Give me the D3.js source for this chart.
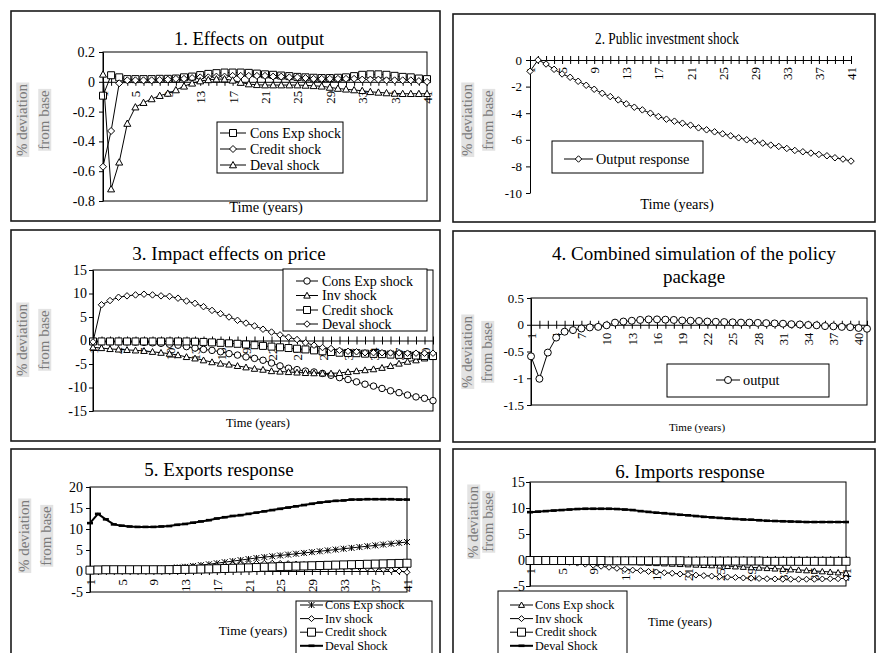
<!DOCTYPE html>
<html>
<head>
<meta charset="utf-8">
<script src="https://cdn.jsdelivr.net/npm/d3@7"></script>
<style>
  body { margin: 0; background: #fff; }
  svg { display: block; }
  text { font-family: "Liberation Serif", "Times New Roman", serif; fill: #000; white-space: pre; }
</style>
</head>
<body>
<svg id="chart" width="876" height="653"></svg>
<script>
// ---------- data ----------
const years = d3.range(1, 42);            // simulation years 1..41
const labelsEvery4 = d3.range(1, 42, 4);   // 1, 5, 9, ... 41
const labelsEvery3 = d3.range(1, 42, 3);   // 1, 4, 7, ... 40

// 1. Effects on output
const outConsExp = [-0.093,0.044,0.03,0.018,0.018,0.018,0.018,0.02,0.02,0.022,0.03,0.035,0.045,0.053,0.058,0.062,0.062,0.062,0.06,0.055,0.05,0.047,0.042,0.038,0.033,0.03,0.027,0.025,0.025,0.027,0.03,0.038,0.047,0.05,0.05,0.047,0.04,0.033,0.03,0.022,0.018];
const outCredit = [-0.57,-0.33,-0.01,0.01,0.01,0.01,0.01,0.012,0.015,0.02,0.02,0.025,0.03,0.03,0.035,0.035,0.04,0.04,0.04,0.04,0.04,0.035,0.035,0.03,0.03,0.025,0.02,0.02,0.02,0.02,0.02,0.02,0.015,0.015,0.015,0.01,0.01,0.01,0.01,0.005,0.0];
const outDeval = [0.05,-0.72,-0.54,-0.28,-0.17,-0.14,-0.115,-0.093,-0.078,-0.055,-0.03,-0.01,0.005,0.013,0.018,0.018,0.01,-0.005,-0.015,-0.02,-0.022,-0.022,-0.022,-0.022,-0.022,-0.024,-0.027,-0.03,-0.038,-0.045,-0.05,-0.055,-0.06,-0.067,-0.071,-0.075,-0.078,-0.08,-0.08,-0.08,-0.08];
const outTicks = [0.2, 0, -0.2, -0.4, -0.6, -0.8];

// 2. Public investment shock
const pubInvOutput = [-0.85,0.0,-0.3,-0.7,-1.05,-1.3,-1.6,-1.9,-2.2,-2.5,-2.75,-3.0,-3.3,-3.55,-3.75,-4.0,-4.25,-4.45,-4.6,-4.75,-4.9,-5.1,-5.25,-5.4,-5.55,-5.7,-5.85,-6.0,-6.1,-6.25,-6.4,-6.5,-6.65,-6.8,-6.9,-7.0,-7.1,-7.2,-7.35,-7.45,-7.6];
const pubInvTicks = [0, -2, -4, -6, -8, -10];

// 3. Impact effects on price
const priceConsExp = [-0.3,-0.3,-0.3,-0.3,-0.3,-0.35,-0.4,-0.5,-0.6,-0.8,-1.0,-1.3,-1.6,-1.9,-2.1,-2.4,-2.8,-3.1,-3.5,-3.8,-4.2,-4.8,-5.4,-5.9,-6.2,-6.5,-6.7,-7.0,-7.4,-7.9,-8.3,-8.8,-9.3,-9.7,-10.2,-10.7,-11.1,-11.6,-12.0,-12.3,-12.8];
const priceInv = [-1.45,-1.6,-1.8,-1.9,-2.0,-2.1,-2.2,-2.4,-2.6,-2.8,-3.1,-3.5,-3.8,-4.2,-4.6,-4.9,-5.1,-5.4,-5.7,-6.0,-6.2,-6.5,-6.6,-6.7,-6.8,-6.9,-6.95,-7.0,-7.0,-6.9,-6.7,-6.5,-6.3,-6.1,-5.8,-5.4,-4.9,-4.5,-4.2,-3.8,-3.5];
const priceCredit = [-0.2,-0.2,-0.2,-0.2,-0.2,-0.2,-0.2,-0.2,-0.2,-0.2,-0.2,-0.2,-0.25,-0.3,-0.4,-0.5,-0.6,-0.7,-0.85,-1.0,-1.15,-1.3,-1.45,-1.6,-1.75,-1.9,-2.1,-2.3,-2.45,-2.6,-2.65,-2.7,-2.8,-2.85,-2.9,-3.0,-3.05,-3.1,-3.2,-3.3,-3.3];
const priceDeval = [-0.3,7.6,8.5,9.2,9.5,9.7,9.85,9.7,9.5,9.4,9.0,8.4,7.9,7.2,6.4,5.7,5.0,4.3,3.7,3.1,2.4,1.8,1.2,0.7,0.2,-0.5,-1.0,-1.5,-1.7,-2.1,-2.3,-2.4,-2.6,-2.6,-2.6,-2.65,-2.65,-2.7,-2.7,-2.7,-2.7];
const priceTicks = [15, 10, 5, 0, -5, -10, -15];

// 4. Combined simulation of the policy package
const combinedOutput = [-0.59,-1.01,-0.52,-0.24,-0.13,-0.10,-0.07,-0.05,-0.04,-0.01,0.04,0.06,0.075,0.09,0.1,0.1,0.095,0.09,0.08,0.075,0.07,0.06,0.055,0.05,0.045,0.04,0.04,0.035,0.03,0.025,0.02,0.01,0.005,-0.005,-0.01,-0.025,-0.03,-0.04,-0.045,-0.06,-0.075];
const combinedTicks = [0.5, 0, -0.5, -1, -1.5];

// 5. Exports response
const expConsExp = [0,0.1,0.2,0.25,0.3,0.35,0.4,0.45,0.5,0.6,0.7,0.85,1.0,1.2,1.4,1.6,1.85,2.1,2.35,2.6,2.85,3.1,3.3,3.5,3.7,3.9,4.1,4.3,4.5,4.7,4.9,5.1,5.3,5.5,5.7,5.9,6.1,6.3,6.5,6.7,6.9];
const expInv = [0.2,0.3,0.35,0.4,0.4,0.45,0.45,0.5,0.5,0.55,0.6,0.7,0.8,0.9,1.0,1.1,1.25,1.4,1.5,1.6,1.7,1.8,1.85,1.85,1.8,1.75,1.65,1.55,1.45,1.35,1.25,1.15,1.05,0.95,0.85,0.7,0.55,0.4,0.2,0.0,-0.3];
const expCredit = [0.2,0.25,0.3,0.3,0.3,0.3,0.3,0.3,0.3,0.3,0.32,0.35,0.38,0.42,0.46,0.5,0.55,0.6,0.65,0.7,0.75,0.82,0.9,0.97,1.05,1.1,1.15,1.2,1.25,1.3,1.35,1.4,1.45,1.5,1.55,1.6,1.65,1.7,1.75,1.8,1.85];
const expDeval = [11.4,13.6,12.3,11.1,10.8,10.6,10.5,10.5,10.5,10.6,10.7,11.0,11.2,11.5,11.8,12.1,12.5,12.8,13.1,13.3,13.6,13.9,14.2,14.5,14.8,15.1,15.4,15.7,16.0,16.3,16.5,16.7,16.8,17.0,17.0,17.1,17.1,17.1,17.1,17.0,17.0];
const expTicks = [20, 15, 10, 5, 0, -5];

// 6. Imports response
const impConsExp = [0,0,-0.02,-0.03,-0.05,-0.06,-0.08,-0.1,-0.12,-0.15,-0.2,-0.27,-0.35,-0.42,-0.5,-0.56,-0.62,-0.68,-0.74,-0.8,-0.86,-0.92,-0.98,-1.04,-1.1,-1.18,-1.26,-1.34,-1.42,-1.5,-1.58,-1.66,-1.74,-1.82,-1.9,-2.0,-2.1,-2.2,-2.3,-2.4,-2.5];
const impInv = [0,-0.05,-0.1,-0.2,-0.3,-0.45,-0.6,-0.8,-1.0,-1.2,-1.4,-1.6,-1.8,-1.95,-2.05,-2.2,-2.3,-2.45,-2.55,-2.7,-2.8,-2.9,-3.0,-3.1,-3.2,-3.3,-3.35,-3.45,-3.5,-3.55,-3.6,-3.65,-3.7,-3.7,-3.7,-3.7,-3.7,-3.65,-3.6,-3.6,-3.5];
const impCredit = [-0.1,-0.1,-0.1,-0.1,-0.1,-0.1,-0.1,-0.1,-0.1,-0.1,-0.15,-0.15,-0.15,-0.15,-0.15,-0.15,-0.15,-0.15,-0.15,-0.15,-0.2,-0.2,-0.2,-0.2,-0.2,-0.2,-0.2,-0.2,-0.2,-0.2,-0.25,-0.25,-0.25,-0.25,-0.25,-0.25,-0.25,-0.25,-0.25,-0.25,-0.25];
const impDeval = [9.2,9.3,9.4,9.5,9.6,9.7,9.8,9.85,9.85,9.85,9.85,9.8,9.7,9.6,9.4,9.25,9.1,9.0,8.85,8.7,8.6,8.45,8.3,8.2,8.1,8.0,7.9,7.8,7.75,7.65,7.55,7.5,7.45,7.4,7.35,7.3,7.3,7.3,7.3,7.3,7.3];
const impTicks = [15, 10, 5, 0, -5];

// ---------- drawing helpers ----------
const svg = d3.select("#chart");
const fmt = d => String(+d.toFixed(2));

function symbolPath(type, s) {
  const h = s / 2;
  switch (type) {
    case "square": return `M${-h},${-h}H${h}V${h}H${-h}Z`;
    case "diamond": return `M0,${-h}L${h},0L0,${h}L${-h},0Z`;
    case "triangle": return `M0,${-h}L${h},${h * 0.8}L${-h},${h * 0.8}Z`;
    case "circle": { const p = d3.path(); p.arc(0, 0, h, 0, 2 * Math.PI); p.closePath(); return p.toString(); }
    case "star": return `M${-h},${-h}L${h},${h}M${h},${-h}L${-h},${h}M0,${-h}L0,${h}`;
    case "dash": return `M${-h},0H${h}`;
  }
  return "";
}

function drawMarker(g, type, s, tx, ty) {
  const open = type === "star" || type === "dash";
  g.append("path")
    .attr("transform", `translate(${tx},${ty})`)
    .attr("d", symbolPath(type, s))
    .attr("fill", open ? "none" : "#fff")
    .attr("stroke", "#000")
    .attr("stroke-width", type === "dash" ? 2.6 : 1);
}

function drawPanel(p) {
  const g = svg.append("g");
  const [fx, fy, fw, fh] = p.frame;
  g.append("rect").attr("x", fx).attr("y", fy).attr("width", fw).attr("height", fh)
    .attr("fill", "#fff").attr("stroke", "#1a1a1a").attr("stroke-width", 1.6);

  // title
  p.title.lines.forEach((t, i) => {
    const tt = g.append("text").attr("x", p.title.x).attr("y", p.title.y[i])
      .attr("text-anchor", "middle").style("font-size", p.title.size + "px").text(t);
    if (p.title.length) tt.attr("textLength", p.title.length).attr("lengthAdjust", "spacingAndGlyphs");
  });

  // vertical axis title
  [[p.ylabel.x1, "% deviation"], [p.ylabel.x2, "from base"]].forEach(([cx, t]) => {
    const tg = g.append("g").attr("transform", `translate(${cx},${p.ylabel.y}) rotate(-90)`);
    const tx = tg.append("text").attr("text-anchor", "middle").attr("dy", "0.35em")
      .style("font-size", "15px").style("fill", "#7a7a7a").text(t);
    const bb = tx.node().getBBox();
    tg.insert("rect", "text").attr("x", bb.x - 1).attr("y", bb.y + 2)
      .attr("width", bb.width + 2).attr("height", bb.height - 3).attr("fill", "#e3e3e3");
  });

  const x = d3.scalePoint().domain(years).range([p.plot.l, p.plot.r]);
  const y = d3.scaleLinear().domain(p.yDomain).range([p.plot.b, p.plot.t]);

  if (p.box) {
    g.append("rect").attr("x", p.plot.l).attr("y", p.plot.t)
      .attr("width", p.plot.r - p.plot.l).attr("height", p.plot.b - p.plot.t)
      .attr("fill", "none").attr("stroke", "#000").attr("stroke-width", 1);
  }

  // value axis
  const yg = g.append("g").attr("transform", `translate(${p.plot.l},0)`)
    .call(d3.axisLeft(y).tickValues(p.yTicks).tickSize(4).tickSizeOuter(0)
      .tickPadding(p.yGap - 4).tickFormat(fmt));
  yg.selectAll("text").style("font-size", p.yFont + "px");
  yg.selectAll("line, path").attr("stroke", "#000");

  // category axis drawn through zero, with crossing tick marks
  const xg = g.append("g").attr("transform", `translate(0,${y(0)})`)
    .call(d3.axisBottom(x).tickValues(years).tickSize(4).tickSizeOuter(0)
      .tickFormat(d => p.xLabels.includes(d) ? d : ""));
  xg.selectAll("line, path").attr("stroke", "#000");
  xg.selectAll(".tick line").attr("y1", -4).attr("y2", 4);
  xg.selectAll(".tick text")
    .attr("transform", "rotate(-90)").attr("x", -p.xOff).attr("y", 0).attr("dy", "0.35em")
    .attr("text-anchor", "end").style("font-size", p.xFont + "px");

  // series
  const line = d3.line().x((v, i) => x(years[i])).y(v => y(v));
  p.series.forEach(s => {
    g.append("path").datum(s.values).attr("d", line)
      .attr("fill", "none").attr("stroke", "#000").attr("stroke-width", s.lw || 1);
    if (s.marker) s.values.forEach((v, i) => drawMarker(g, s.marker, s.size, x(years[i]), y(v)));
  });

  // axis title
  g.append("text").attr("x", p.xlabel.x).attr("y", p.xlabel.y).attr("text-anchor", "middle")
    .style("font-size", p.xlabel.size + "px").text("Time (years)");

  // legend
  const L = p.legend;
  g.append("rect").attr("x", L.box[0]).attr("y", L.box[1]).attr("width", L.box[2]).attr("height", L.box[3])
    .attr("fill", "#fff").attr("stroke", "#000").attr("stroke-width", 1);
  p.series.forEach((s, i) => {
    const ly = L.rows[i];
    g.append("line").attr("x1", L.line[0]).attr("x2", L.line[1]).attr("y1", ly).attr("y2", ly)
      .attr("stroke", "#000").attr("stroke-width", s.lw || 1);
    if (s.marker) drawMarker(g, s.marker, s.size, (L.line[0] + L.line[1]) / 2, ly);
    g.append("text").attr("x", L.textX).attr("y", ly).attr("dy", "0.33em")
      .style("font-size", L.font + "px").text(s.name);
  });
}

// ---------- panels ----------
drawPanel({
  frame: [11, 11, 429, 210],
  title: { lines: ["1. Effects on  output"], x: 249, y: [45], size: 18.5 },
  ylabel: { x1: 22, x2: 44, y: 120 },
  plot: { l: 103, r: 427, t: 52, b: 201 }, yDomain: [-0.8, 0.2], yTicks: outTicks,
  yGap: 8, yFont: 14, box: true, xLabels: labelsEvery4, xOff: 9, xFont: 13,
  series: [
    { name: "Cons Exp shock", values: outConsExp, marker: "square", size: 7 },
    { name: "Credit shock", values: outCredit, marker: "diamond", size: 7 },
    { name: "Deval shock", values: outDeval, marker: "triangle", size: 7 }
  ],
  xlabel: { x: 266, y: 212, size: 14.4 },
  legend: { box: [217, 122, 126, 51], rows: [133, 149, 165], line: [220, 246], textX: 250, font: 14 }
});

drawPanel({
  frame: [453, 14, 422, 208],
  title: { lines: ["2. Public investment shock"], x: 667, y: [44], size: 17.5, length: 144 },
  ylabel: { x1: 467, x2: 488, y: 120 },
  plot: { l: 530, r: 851, t: 60, b: 193 }, yDomain: [-10, 0], yTicks: pubInvTicks,
  yGap: 8, yFont: 13, box: false, xLabels: labelsEvery4, xOff: 7, xFont: 13,
  series: [
    { name: "Output response", values: pubInvOutput, marker: "diamond", size: 6.5 }
  ],
  xlabel: { x: 677, y: 209, size: 14.4 },
  legend: { box: [552, 141, 151, 32], rows: [159], line: [564, 593], textX: 596, font: 14.3 }
});

drawPanel({
  frame: [11, 230, 429, 211],
  title: { lines: ["3. Impact effects on price"], x: 229, y: [260], size: 19 },
  ylabel: { x1: 22, x2: 44, y: 340 },
  plot: { l: 93, r: 433, t: 270, b: 411 }, yDomain: [-15, 15], yTicks: priceTicks,
  yGap: 6, yFont: 14, box: true, xLabels: labelsEvery3, xOff: 7, xFont: 13,
  series: [
    { name: "Cons Exp shock", values: priceConsExp, marker: "circle", size: 6.5 },
    { name: "Inv shock", values: priceInv, marker: "triangle", size: 6.5 },
    { name: "Credit shock", values: priceCredit, marker: "square", size: 7 },
    { name: "Deval shock", values: priceDeval, marker: "diamond", size: 6.5 }
  ],
  xlabel: { x: 258, y: 427, size: 12.5 },
  legend: { box: [283, 269, 144, 62], rows: [281, 295.5, 310, 324], line: [296, 318], textX: 322, font: 14 }
});

drawPanel({
  frame: [453, 231, 422, 211],
  title: { lines: ["4. Combined simulation of the policy", "package"], x: 694, y: [260, 283], size: 19 },
  ylabel: { x1: 467, x2: 487, y: 352 },
  plot: { l: 531, r: 867, t: 298, b: 405 }, yDomain: [-1.5, 0.5], yTicks: combinedTicks,
  yGap: 7, yFont: 13, box: true, xLabels: labelsEvery3, xOff: 8, xFont: 12.5,
  series: [
    { name: "output", values: combinedOutput, marker: "circle", size: 7 }
  ],
  xlabel: { x: 697, y: 431, size: 11 },
  legend: { box: [667, 364, 162, 33], rows: [380], line: [716, 740], textX: 743, font: 14.3 }
});

drawPanel({
  frame: [11, 449, 429, 220],
  title: { lines: ["5. Exports response"], x: 219, y: [476], size: 19 },
  ylabel: { x1: 24, x2: 46, y: 536 },
  plot: { l: 90, r: 407, t: 487, b: 592 }, yDomain: [-5, 20], yTicks: expTicks,
  yGap: 7, yFont: 14, box: true, xLabels: labelsEvery4, xOff: 8, xFont: 13,
  series: [
    { name: "Cons Exp shock", values: expConsExp, marker: "star", size: 6 },
    { name: "Inv shock", values: expInv, marker: "diamond", size: 6 },
    { name: "Credit shock", values: expCredit, marker: "square", size: 8 },
    { name: "Deval Shock", values: expDeval, marker: "dash", size: 6, lw: 2 }
  ],
  xlabel: { x: 253, y: 635, size: 13.4 },
  legend: { box: [296, 601, 136, 60], rows: [605, 618.6, 632.2, 645.8], line: [300, 323], textX: 325, font: 12.2 }
});

drawPanel({
  frame: [453, 449, 422, 220],
  title: { lines: ["6. Imports response"], x: 690, y: [478], size: 19 },
  ylabel: { x1: 473, x2: 488, y: 522 },
  plot: { l: 530, r: 846, t: 482, b: 586 }, yDomain: [-5, 15], yTicks: impTicks,
  yGap: 5, yFont: 14, box: true, xLabels: labelsEvery4, xOff: 8, xFont: 13,
  series: [
    { name: "Cons Exp shock", values: impConsExp, marker: "triangle", size: 6 },
    { name: "Inv shock", values: impInv, marker: "diamond", size: 6 },
    { name: "Credit shock", values: impCredit, marker: "square", size: 8 },
    { name: "Deval Shock", values: impDeval, marker: "dash", size: 6, lw: 2 }
  ],
  xlabel: { x: 680, y: 626, size: 12.5 },
  legend: { box: [498, 591, 129, 70], rows: [605, 618.6, 632.2, 645.8], line: [510, 533], textX: 535, font: 12.2 }
});
</script>
</body>
</html>
